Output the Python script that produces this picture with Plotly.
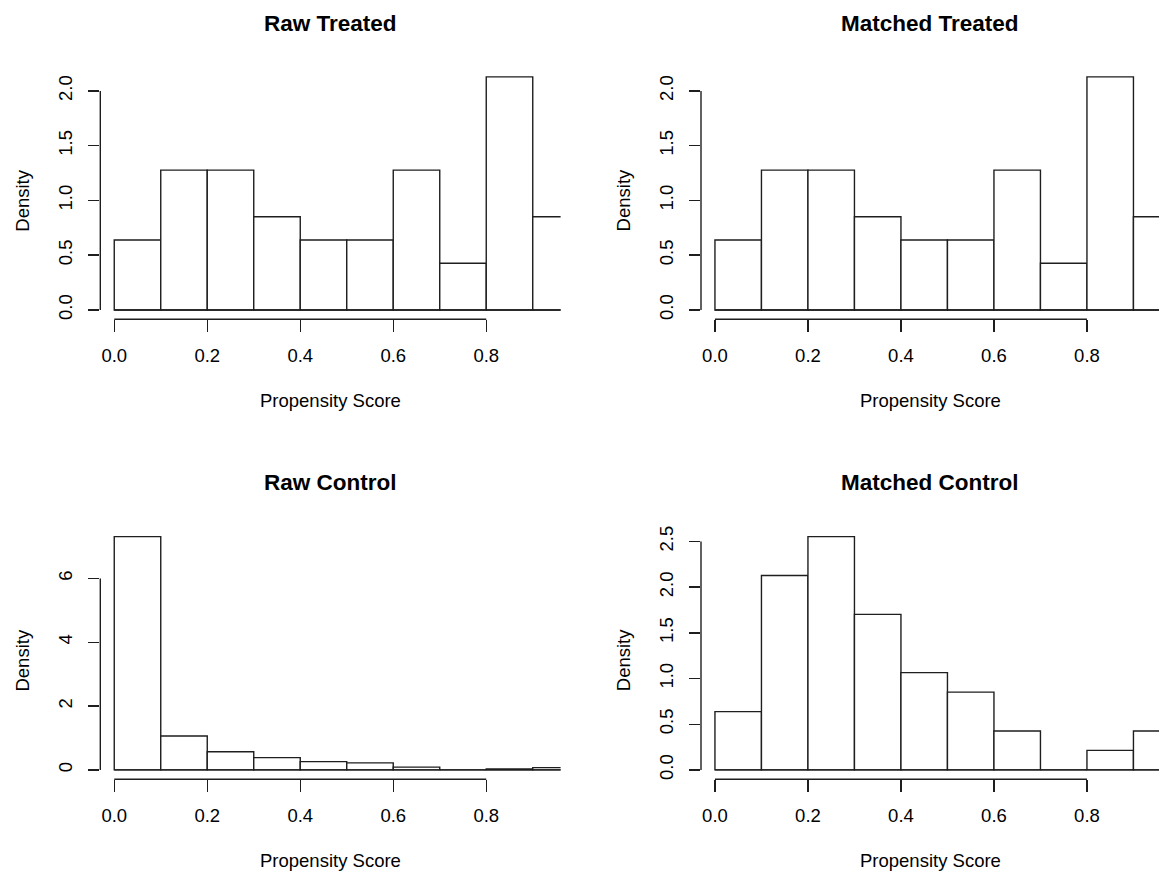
import plotly.graph_objects as go

# ---------------- data ----------------
bin_edges = [0.0, 0.1, 0.2, 0.3, 0.4, 0.5, 0.6, 0.7, 0.8, 0.9, 1.0]
bin_centers = [0.05, 0.15, 0.25, 0.35, 0.45, 0.55, 0.65, 0.75, 0.85, 0.95]

raw_treated = [0.638, 1.277, 1.277, 0.851, 0.638, 0.638, 1.277, 0.426, 2.128, 0.851]
matched_treated = [0.638, 1.277, 1.277, 0.851, 0.638, 0.638, 1.277, 0.426, 2.128, 0.851]
raw_control = [7.31, 1.06, 0.57, 0.385, 0.26, 0.22, 0.085, 0.0, 0.03, 0.07]
matched_control = [0.638, 2.128, 2.553, 1.702, 1.064, 0.851, 0.426, 0.0, 0.213, 0.426]

titles = ["Raw Treated", "Matched Treated", "Raw Control", "Matched Control"]
x_tickvals = [0.0, 0.2, 0.4, 0.6, 0.8]
x_ticktext = ["0.0", "0.2", "0.4", "0.6", "0.8"]
y_tickvals_treated = [0.0, 0.5, 1.0, 1.5, 2.0]
y_ticktext_treated = ["0.0", "0.5", "1.0", "1.5", "2.0"]
y_tickvals_rawc = [0, 2, 4, 6]
y_ticktext_rawc = ["0", "2", "4", "6"]
y_tickvals_matc = [0.0, 0.5, 1.0, 1.5, 2.0, 2.5]
y_ticktext_matc = ["0.0", "0.5", "1.0", "1.5", "2.0", "2.5"]
x_label = "Propensity Score"
y_label = "Density"

# ---------------- layout geometry ----------------
W, H = 1159, 872
LINE = "#1e1e1e"
LW = 1.4
FONT = "Liberation Sans, Arial, sans-serif"

def px_x(p):
    return p / W

def px_y(p):
    return 1 - p / H

# panel plot regions in pixels: (left, right, top, bottom)
panels = [
    dict(vals=raw_treated, title=titles[0], yt=y_tickvals_treated, ytt=y_ticktext_treated,
         box=(100.3, 560.6, 66.7, 319.0)),
    dict(vals=matched_treated, title=titles[1], yt=y_tickvals_treated, ytt=y_ticktext_treated,
         box=(701.0, 1159.0, 66.7, 319.0)),
    dict(vals=raw_control, title=titles[2], yt=y_tickvals_rawc, ytt=y_ticktext_rawc,
         box=(100.3, 560.6, 527.5, 780.0)),
    dict(vals=matched_control, title=titles[3], yt=y_tickvals_matc, ytt=y_ticktext_matc,
         box=(701.0, 1159.0, 527.5, 780.0)),
]

PX_PER_UNIT_X = 465.0
X_LEFT = -0.03

fig = go.Figure()
layout = dict(
    width=W, height=H,
    margin=dict(l=0, r=0, t=0, b=0),
    paper_bgcolor="white", plot_bgcolor="white",
    showlegend=False,
    font=dict(family=FONT, color="black", size=18.5),
)
shapes = []
annotations = []

for i, p in enumerate(panels):
    n = "" if i == 0 else str(i + 1)
    xa, ya = "x" + n, "y" + n
    l, r, t, b = p["box"]
    vmax = max(p["vals"])
    yrange = [-0.04 * vmax, 1.04 * vmax]
    xrange = [X_LEFT, X_LEFT + (r - l) / PX_PER_UNIT_X]

    fig.add_trace(go.Bar(
        x=bin_centers, y=p["vals"], width=0.1,
        marker=dict(color="white", line=dict(color=LINE, width=LW)),
        xaxis=xa, yaxis=ya, hoverinfo="skip",
    ))
    # baseline of the histogram (bottom edges of all bins)
    fig.add_trace(go.Scatter(
        x=[bin_edges[0], bin_edges[-1]], y=[0, 0], mode="lines",
        line=dict(color=LINE, width=LW), xaxis=xa, yaxis=ya, hoverinfo="skip",
    ))

    layout["xaxis" + n] = dict(
        domain=[px_x(l), px_x(r)], range=xrange, anchor=ya,
        showgrid=False, zeroline=False, showline=False, fixedrange=True,
        ticks="outside", ticklen=11.5, tickwidth=LW, tickcolor=LINE,
        tickvals=x_tickvals, ticktext=x_ticktext,
        tickfont=dict(family=FONT, size=18.5, color="black"),
        ticklabelstandoff=8,
    )
    layout["yaxis" + n] = dict(
        domain=[px_y(b), px_y(t)], range=yrange, anchor=xa,
        showgrid=False, zeroline=False, showline=False, fixedrange=True,
        ticks="outside", ticklen=11.5, tickwidth=LW, tickcolor=LINE,
        tickvals=p["yt"], ticktext=p["ytt"], tickangle=-90,
        tickfont=dict(family=FONT, size=18.5, color="black"),
        ticklabelstandoff=8,
    )
    # R-style axis lines spanning first to last tick
    shapes.append(dict(type="line", xref=xa, yref=ya + " domain",
                       x0=x_tickvals[0], x1=x_tickvals[-1], y0=0, y1=0,
                       line=dict(color=LINE, width=LW)))
    shapes.append(dict(type="line", xref=xa + " domain", yref=ya,
                       x0=0, x1=0, y0=p["yt"][0], y1=p["yt"][-1],
                       line=dict(color=LINE, width=LW)))

    cx = (l + r) / 2
    # title
    annotations.append(dict(text="<b>" + p["title"] + "</b>", xref="paper", yref="paper",
                            x=px_x(cx), y=px_y(t - 44.5), xanchor="center", yanchor="middle",
                            showarrow=False, font=dict(family=FONT, size=22.5, color="black")))
    # x label
    annotations.append(dict(text=x_label, xref="paper", yref="paper",
                            x=px_x(cx), y=px_y(b + 81), xanchor="center", yanchor="middle",
                            showarrow=False, font=dict(family=FONT, size=18.5, color="black")))
    # y label
    annotations.append(dict(text=y_label, xref="paper", yref="paper",
                            x=px_x(l - 78), y=px_y((t + b) / 2 + 7), xanchor="center", yanchor="middle",
                            textangle=-90,
                            showarrow=False, font=dict(family=FONT, size=18.5, color="black")))

layout["shapes"] = shapes
layout["annotations"] = annotations
fig.update_layout(**layout)
fig.write_html("out.html",
               config={"displayModeBar": False, "staticPlot": True},
               post_script="document.body.style.margin='0px';document.body.style.overflow='hidden';")
